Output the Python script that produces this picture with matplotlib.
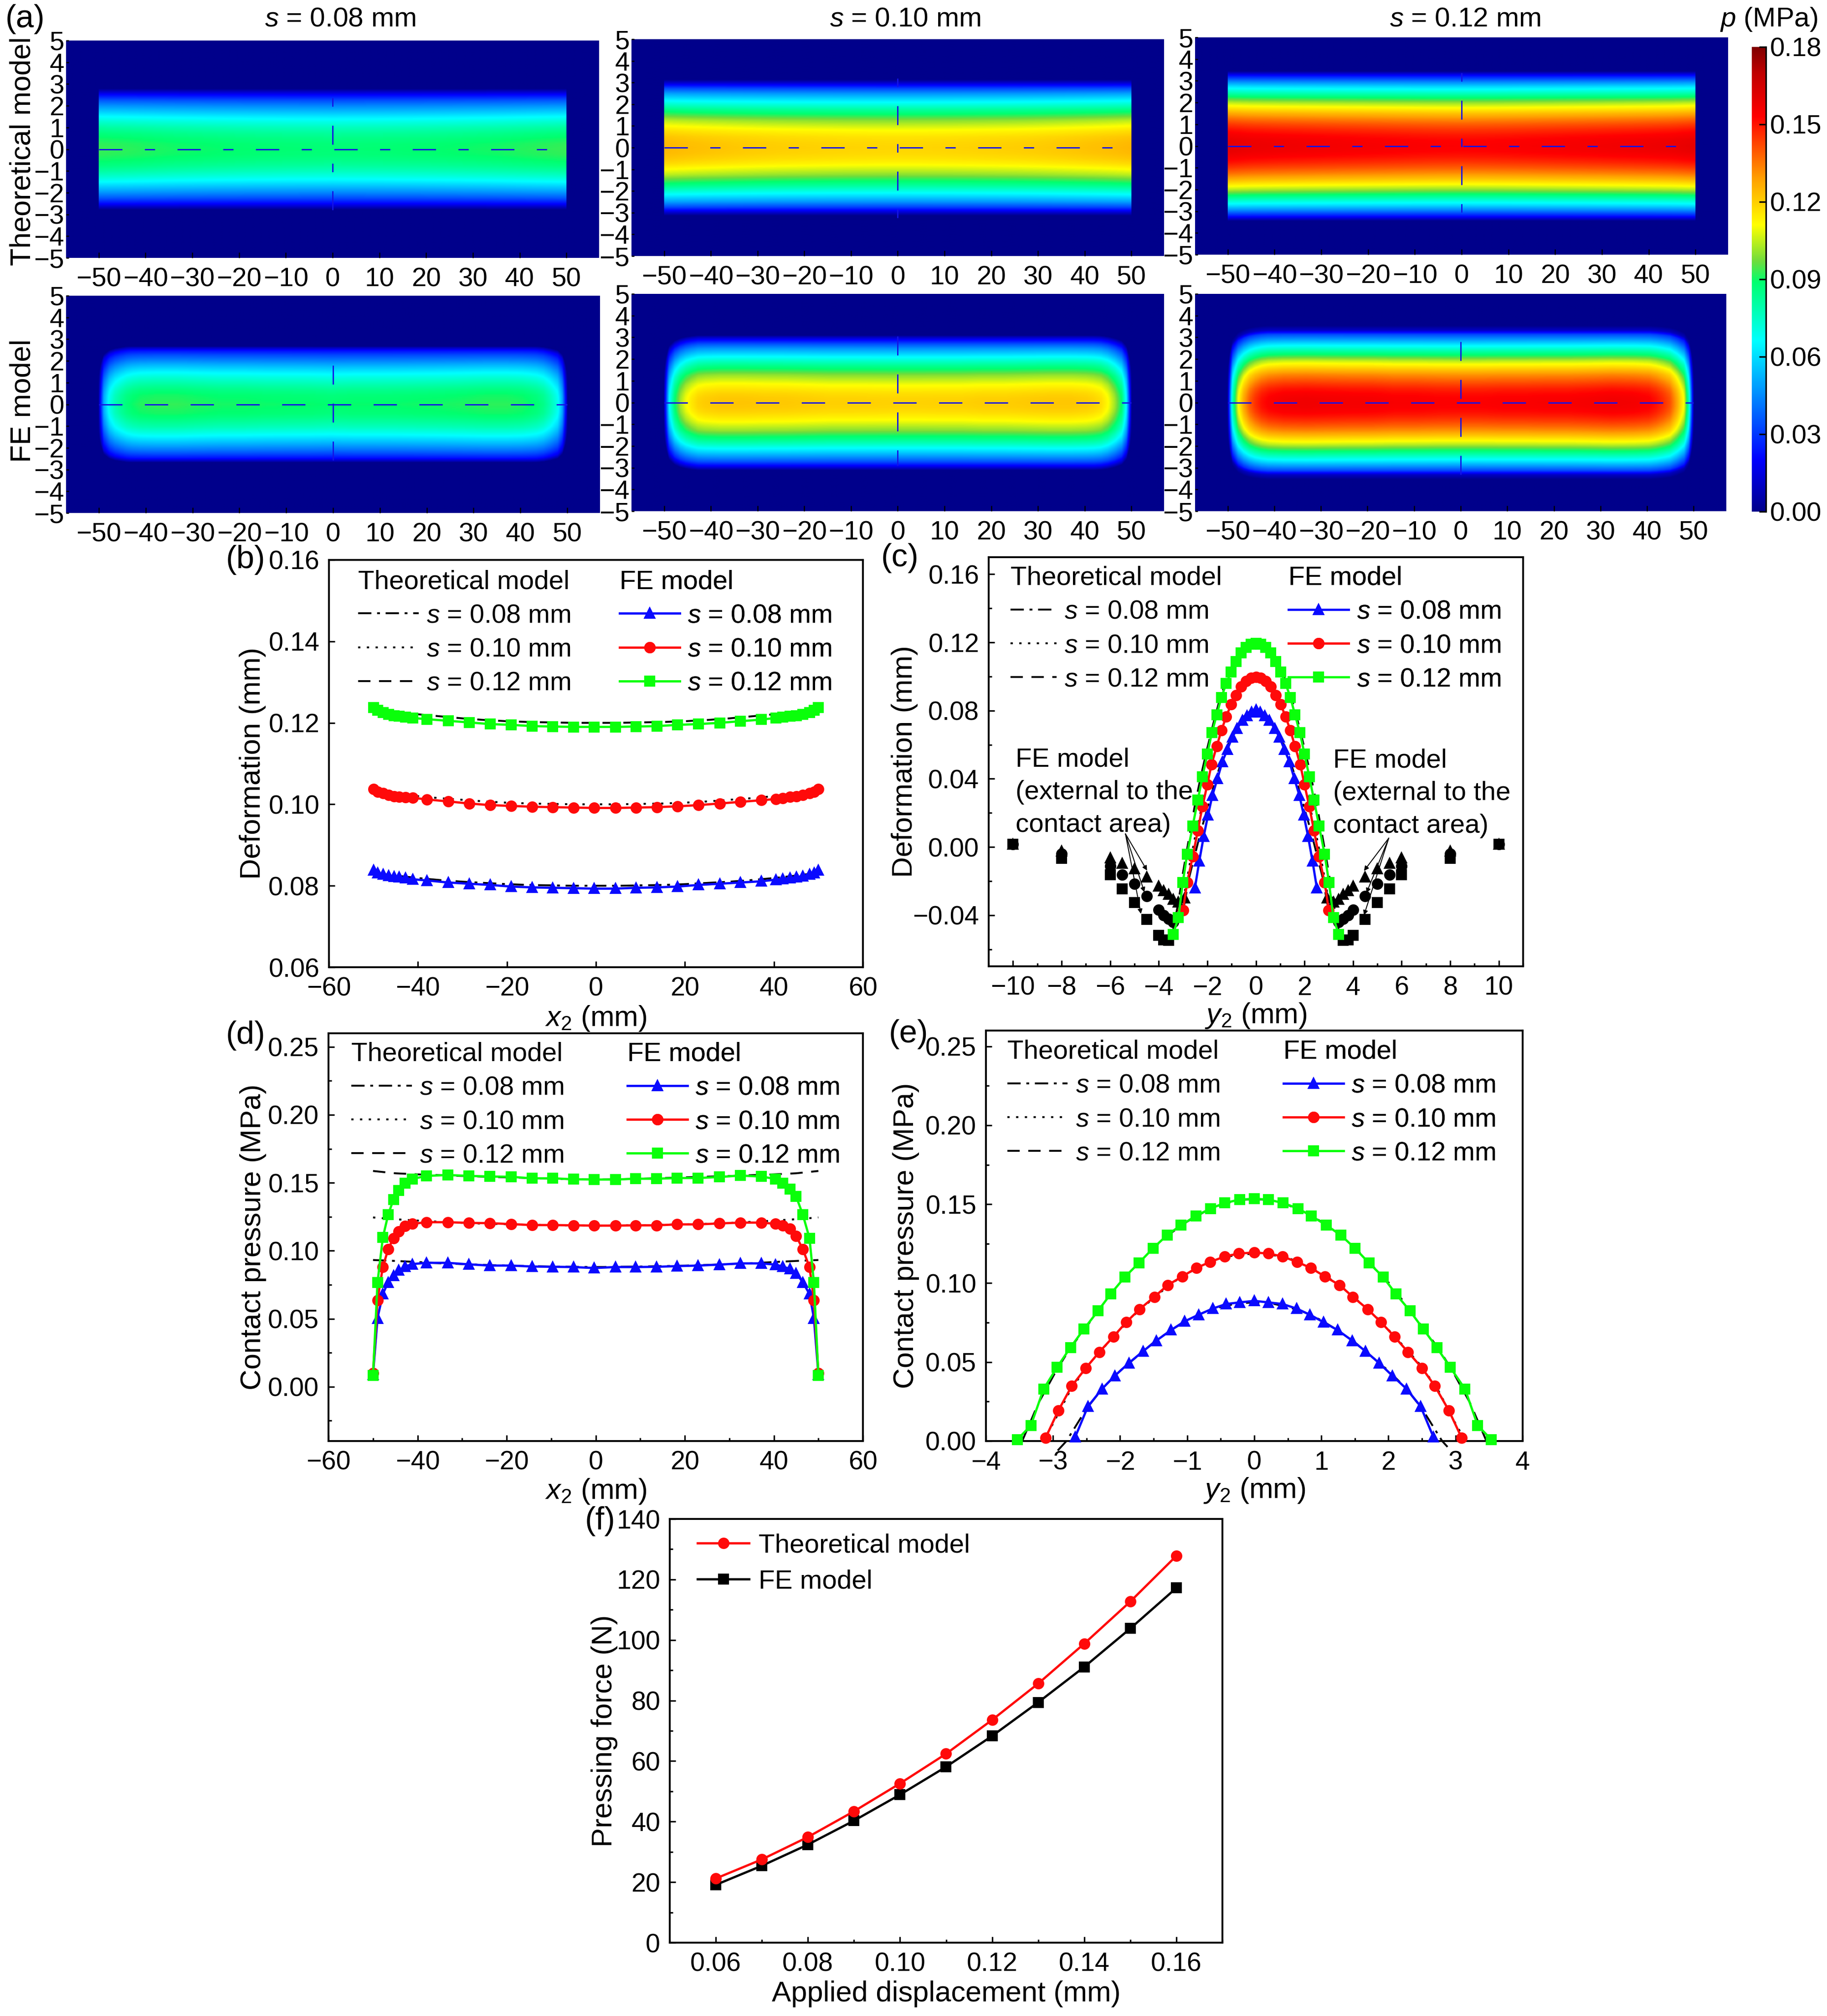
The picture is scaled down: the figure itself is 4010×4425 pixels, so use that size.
import numpy as np
import matplotlib
matplotlib.use('Agg')
import matplotlib.pyplot as plt
from matplotlib.cm import ScalarMappable
from matplotlib.colors import LinearSegmentedColormap, Normalize
from matplotlib.ticker import FuncFormatter, MultipleLocator

plt.rcParams['font.family'] = ['Liberation Sans', 'DejaVu Sans']
plt.rcParams['mathtext.fontset'] = 'custom'
plt.rcParams['mathtext.rm'] = 'Liberation Sans'
plt.rcParams['mathtext.it'] = 'Liberation Sans:italic'
plt.rcParams['lines.scale_dashes'] = False

W, H = 4011, 4425
FS = 14.5
FS_TICK = 13.8
FS_HEAT = 14
FS_LAB = 15.2
FS_LEG = 13.8

# --- values ---
sizes = ['0.08', '0.10', '0.12']

# colour bar stops (pressure in MPa, colour)
cbar_vals = [0, .02, .066, .089, .097, .111, .129, .153, .17, .18]
cbar_cols = ['#00008b', '#0000ff', '#00ffff', '#00ff6e', '#6edc3c', '#ffff00', '#ffa000', '#ff0000', '#c00000', '#800000']

# theory along x2 (b, d)
th_x = [-50, -45, -40, -35, -30, -25, -20, -15, -10, -5, 0, 5, 10, 15, 20, 25, 30, 35, 40, 45, 50]
th_def_x_08 = [.0832, .0825, .0819, .0814, .0810, .0807, .0804, .0802, .0801, .0800, .0800,
               .0800, .0801, .0802, .0804, .0807, .0810, .0814, .0819, .0825, .0832]
th_def_x_10 = [.1033, .1026, .1020, .1015, .1011, .1007, .1004, .1002, .1001, .1000, .1000,
               .1000, .1001, .1002, .1004, .1007, .1011, .1015, .1020, .1026, .1033]
th_def_x_12 = [.1235, .1227, .1221, .1216, .1211, .1207, .1204, .1202, .1201, .1200, .1200,
               .1200, .1201, .1202, .1204, .1207, .1211, .1216, .1221, .1227, .1235]
th_p_x_08 = [.0932, .0925, .0917, .0908, .0902, .0896, .0891, .0887, .0884, .0882, .0880,
             .0882, .0884, .0887, .0891, .0896, .0902, .0908, .0917, .0925, .0932]
th_p_x_10 = [.1245, .1232, .1222, .1213, .1205, .1199, .1195, .1191, .1188, .1186, .1185,
             .1186, .1188, .1191, .1195, .1199, .1205, .1213, .1222, .1232, .1245]
th_p_x_12 = [.1587, .1570, .1562, .1556, .1550, .1545, .1540, .1535, .1530, .1526, .1524,
             .1526, .1530, .1535, .1540, .1545, .1550, .1556, .1562, .1570, .1587]

# FE along x2 (b, d)
fe_x = [-50, -49, -47.8, -46.6, -45.4, -44.2, -42.8, -41.2, -38, -33.2, -28.5, -23.8, -19, -14.3, -9.7, -5, -0.4,
        4.4, 9, 13.7, 18.3, 23, 27.8, 32.5, 37.2, 40.4, 42, 43.6, 45, 46.5, 48, 49, 50]
fe_def_x_08 = [.0838, .0832, .0828, .0825, .0823, .0821, .0819, .0816, .0813, .0808, .0805, .0802, .0798, .0796,
               .0795, .0794, .0793, .0793, .0795, .0796, .0798, .0802, .0805, .0808, .0811, .0815, .0817, .0819,
               .0821, .0824, .0828, .0832, .0838]
fe_def_x_10 = [.1037, .1031, .1027, .1023, .1020, .1018, .1017, .1016, .1012, .1007, .1002, .0998, .0996, .0994,
               .0993, .0992, .0991, .0991, .0992, .0993, .0995, .0998, .1002, .1006, .1010, .1013, .1015, .1018,
               .1020, .1023, .1027, .1031, .1037]
fe_def_x_12 = [.1238, .1231, .1225, .1221, .1218, .1216, .1214, .1212, .1209, .1205, .1201, .1197, .1195, .1192,
               .1191, .1190, .1190, .1190, .1191, .1192, .1195, .1197, .1200, .1204, .1208, .1212, .1214, .1216,
               .1218, .1221, .1225, .1231, .1238]
fe_p_x_08 = [.0090, .0503, .0682, .0768, .0817, .0857, .0884, .0902, .0911, .0911, .0900, .0891, .0891, .0884,
             .0882, .0880, .0873, .0880, .0880, .0882, .0887, .0891, .0898, .0907, .0907, .0898, .0884, .0866,
             .0835, .0768, .0682, .0503, .0090]
fe_p_x_10 = [.0099, .0637, .0880, .1012, .1093, .1142, .1183, .1198, .1210, .1210, .1205, .1203, .1196, .1189,
             .1189, .1187, .1185, .1185, .1187, .1187, .1194, .1194, .1201, .1207, .1207, .1198, .1185, .1163,
             .1109, .1012, .0880, .0637, .0099]
fe_p_x_12 = [.0083, .0765, .1097, .1266, .1378, .1445, .1497, .1528, .1551, .1557, .1551, .1546, .1544, .1533,
             .1533, .1526, .1524, .1524, .1530, .1530, .1535, .1535, .1543, .1553, .1546, .1528, .1497, .1452,
             .1400, .1266, .1093, .0765, .0083]

# deformation along y2 (c)
th_def_y_x_08 = [-2.95, -2.75, -2.5, -2.25, -2, -1.75, -1.5, -1.25, -1, -.75, -.5, -.25, 0,
                 .25, .5, .75, 1, 1.25, 1.5, 1.75, 2, 2.25, 2.5, 2.75, 2.95]
th_def_y_08 = [-.034, -.018, -.004, .010, .0225, .035, .0465, .056, .0645, .0715, .0765, .0795, .0805,
               .0795, .0765, .0715, .0645, .056, .0465, .035, .0225, .010, -.004, -.018, -.034]
th_def_y_x_10 = [-3.1, -3, -2.75, -2.5, -2.25, -2, -1.75, -1.5, -1.25, -1, -.75, -.5, -.25, 0,
                 .25, .5, .75, 1, 1.25, 1.5, 1.75, 2, 2.25, 2.5, 2.75, 3, 3.1]
th_def_y_10 = [-.041, -.032, -.012, .006, .022, .0375, .0525, .0645, .0755, .0845, .0915, .0965, .0995, .1003,
               .0995, .0965, .0915, .0845, .0755, .0645, .0525, .0375, .022, .006, -.012, -.032, -.041]
th_def_y_x_12 = [-3.45, -3.2, -3, -2.75, -2.5, -2.25, -2, -1.75, -1.5, -1.25, -1, -.75, -.5, -.25, 0,
                 .25, .5, .75, 1, 1.25, 1.5, 1.75, 2, 2.25, 2.5, 2.75, 3, 3.2, 3.45]
th_def_y_12 = [-.052, -.033, -.015, .0055, .0255, .0425, .058, .0725, .086, .0965, .1055, .1125, .1165, .1195, .1203,
               .1195, .1165, .1125, .1055, .0965, .086, .0725, .058, .0425, .0255, .0055, -.015, -.033, -.052]

fe_def_y_x_08 = [-2.51, -2.33, -2.15, -1.97, -1.79, -1.58, -1.38, -1.17, -.97, -.77, -.56, -.36, -.18, 0,
                 .18, .36, .56, .77, .97, 1.17, 1.38, 1.58, 1.79, 1.97, 2.15, 2.33, 2.51]
fe_def_y_08 = [-.024, -.0083, .0061, .0187, .0303, .0402, .0501, .0573, .0645, .0695, .0743, .0770, .0790, .0806,
               .0790, .0770, .0743, .0695, .0645, .0573, .0501, .0402, .0303, .0187, .0061, -.0083, -.024]
fe_def_y_x_10 = [-3, -2.83, -2.6, -2.39, -2.2, -2, -1.83, -1.61, -1.42, -1.22, -1.02, -.82, -.61, -.41, -.2, 0,
                 .2, .41, .61, .82, 1.02, 1.22, 1.42, 1.61, 1.83, 2, 2.2, 2.39, 2.6, 2.83, 3]
fe_def_y_10 = [-.037, -.0208, -.0056, .0097, .0237, .0366, .0483, .0591, .0684, .0765, .0837, .0890, .0941, .0973,
               .0991, .0998, .0991, .0973, .0941, .0890, .0837, .0765, .0684, .0591, .0483, .0366, .0237, .0097,
               -.0056, -.0208, -.037]
fe_def_y_x_12 = [-3.41, -3.19, -3.01, -2.83, -2.6, -2.39, -2.2, -2, -1.81, -1.61, -1.42, -1.22, -1.02, -.82, -.61,
                 -.41, -.2, 0, .2, .41, .61, .82, 1.02, 1.22, 1.42, 1.61, 1.81, 2, 2.2, 2.39, 2.6, 2.83, 3.01, 3.19,
                 3.41]
fe_def_y_12 = [-.0513, -.0415, -.0208, -.0043, .0124, .0276, .0411, .0546, .0671, .0776, .0878, .0959, .1027, .1088,
               .1138, .1171, .1189, .1196, .1189, .1171, .1138, .1088, .1027, .0959, .0878, .0776, .0671, .0546,
               .0411, .0276, .0124, -.0043, -.0208, -.0415, -.0513]

# FE points outside the contact area (c)
ext_x_tri = [-10, -8, -6, -5.5, -5, -4.5, -4, -3.8, -3.6, -3.4, -3.2, -2.94,
             2.94, 3.2, 3.4, 3.6, 3.8, 4, 4.5, 5, 5.5, 6, 8, 10]
ext_tri = [.0015, -.0025, -.0064, -.0096, -.0129, -.0175, -.0229, -.0256, -.0279, -.0306, -.0324, -.030,
           -.030, -.0324, -.0306, -.0279, -.0256, -.0229, -.0175, -.0129, -.0096, -.0064, -.0025, .0015]
ext_x_cir = [-10, -8, -6, -5.5, -5, -4.5, -4, -3.8, -3.6, -3.4, 3.4, 3.6, 3.8, 4, 4.5, 5, 5.5, 6, 8, 10]
ext_cir = [.0015, -.0039, -.0111, -.0163, -.0215, -.0288, -.0369, -.040, -.0423, -.0441,
           -.0441, -.0423, -.040, -.0369, -.0288, -.0215, -.0163, -.0111, -.0039, .0015]
ext_x_sq = [-10, -8, -6, -5.5, -5, -4.5, -4, -3.8, -3.6, 3.6, 3.8, 4, 4.5, 5, 5.5, 6, 8, 10]
ext_sq = [.0015, -.0066, -.0164, -.0245, -.0326, -.0426, -.0519, -.0546, -.0548,
          -.0548, -.0546, -.0519, -.0426, -.0326, -.0245, -.0164, -.0066, .0015]

# pressure along y2 (e)
th_p_y_x_08 = [-2.93, -2.8, -2.5, -2.25, -2, -1.75, -1.5, -1.25, -1, -.75, -.5, -.25, 0,
               .25, .5, .75, 1, 1.25, 1.5, 1.75, 2, 2.25, 2.5, 2.8, 2.88]
th_p_y_08 = [-.006, 0, .0205, .034, .0445, .0535, .0625, .07, .0765, .0815, .085, .0872, .0878,
             .0872, .085, .0815, .0765, .07, .0625, .0535, .0445, .034, .0205, 0, -.0037]
th_p_y_x_10 = [-3.15, -3, -2.75, -2.5, -2.25, -2, -1.75, -1.5, -1.25, -1, -.75, -.5, -.25, 0,
               .25, .5, .75, 1, 1.25, 1.5, 1.75, 2, 2.25, 2.5, 2.75, 3, 3.15]
th_p_y_10 = [0, .011, .0315, .047, .059, .0705, .0815, .0905, .0995, .106, .112, .116, .118, .1187,
             .118, .116, .112, .106, .0995, .0905, .0815, .0705, .059, .047, .0315, .011, 0]
th_p_y_x_12 = [-3.46, -3.22, -2.94, -2.74, -2.5, -2.25, -2, -1.75, -1.5, -1.25, -1, -.75, -.5, -.25, 0,
               .25, .5, .75, 1, 1.25, 1.5, 1.75, 2, 2.25, 2.5, 2.74, 2.94, 3.22, 3.46]
th_p_y_12 = [0, .0238, .0455, .059, .0725, .087, .1005, .1115, .1225, .1315, .139, .145, .1495, .1525, .1533,
             .1525, .1495, .145, .139, .1315, .1225, .1115, .1005, .087, .0725, .059, .0455, .0238, 0]

fe_p_y_x_08 = [-2.67, -2.48, -2.27, -2.08, -1.87, -1.66, -1.46, -1.24, -1.04, -.83, -.62, -.42, -.22, 0,
               .21, .42, .63, .83, 1.03, 1.24, 1.46, 1.66, 1.86, 2.06, 2.27, 2.48, 2.67]
fe_p_y_08 = [.0025, .0219, .033, .0413, .0494, .0568, .0636, .0703, .0758, .08, .0839, .0868, .0878, .0888,
             .0878, .0868, .0839, .08, .0753, .0703, .0636, .0568, .0494, .0413, .033, .0219, .0025]
fe_p_y_x_10 = [-3.11, -2.92, -2.72, -2.51, -2.31, -2.1, -1.91, -1.71, -1.49, -1.29, -1.07, -.86, -.66, -.44, -.23, 0,
               .21, .42, .64, .84, 1.05, 1.27, 1.47, 1.69, 1.89, 2.09, 2.29, 2.5, 2.69, 2.9, 3.09]
fe_p_y_10 = [.0021, .0194, .0349, .0463, .0564, .0661, .0752, .0835, .0913, .0988, .1043, .1097, .1134, .1169, .1188,
             .1194, .1188, .1169, .1134, .1097, .1043, .0988, .0913, .0835, .0752, .0661, .0564, .0463, .0349, .0194,
             .0021]
fe_p_y_x_12 = [-3.53, -3.33, -3.14, -2.94, -2.74, -2.54, -2.33, -2.14, -1.93, -1.72, -1.51, -1.3, -1.09, -.87, -.65,
               -.44, -.22, 0, .21, .43, .65, .85, 1.07, 1.29, 1.5, 1.71, 1.92, 2.11, 2.32, 2.52, 2.72, 2.92, 3.14,
               3.33, 3.53]
fe_p_y_12 = [.001, .0099, .033, .0467, .0593, .0709, .0824, .0932, .1039, .1128, .1221, .1304, .1368, .1426, .1473,
             .1508, .1529, .1535, .1529, .1508, .1473, .1426, .1368, .1304, .1221, .1128, .1039, .0932, .0824,
             .0709, .0593, .0467, .033, .0099, .001]

# force vs displacement (f)
disp = [.06, .07, .08, .09, .10, .11, .12, .13, .14, .15, .16]
force_th = [21.2, 27.5, 34.9, 43.4, 52.6, 62.4, 73.6, 85.6, 98.8, 112.7, 127.8]
force_fe = [19.1, 25.4, 32.4, 40.3, 48.9, 58.1, 68.3, 79.4, 91.1, 103.8, 117.2]

# ends of the blue probe lines in (a): y top, y bottom
probe_th = [(2.35, -2.85), (3.2, -3.25), (3.37, -3.45)]
probe_fe = [(1.8, -2.6), (3.05, -2.9), (2.8, -3.4)]

# --- drawing ---
fig = plt.figure(figsize=(W / 300, H / 300), dpi=300)


def add_ax(l, t, r, b):
    return fig.add_axes([l / W, 1 - b / H, (r - l) / W, (b - t) / H])


def fig_text(x, y, s, **kw):
    kw.setdefault('ha', 'center')
    kw.setdefault('va', 'center')
    kw.setdefault('fontsize', FS)
    fig.text(x / W, 1 - y / H, s, **kw)


cmap = LinearSegmentedColormap.from_list('pressure', [(v / .18, c) for v, c in zip(cbar_vals, cbar_cols)], N=512)

heat_x = np.linspace(-57, 57, 913)
heat_y = np.linspace(-5, 5, 401)
DASH_TH = (0, (12.3, 11.8, 5.4, 11.8))
DASH_FE = (0, (12.3, 11.8))
DASH_V = (0, (4.5, 10, 10, 10))
DASH_VFE = (0, (10, 10))


def heat_panel(box, px_x, px_vals, py_x, py_vals, probe, th):
    ax = add_ax(*box)
    px = np.interp(heat_x, px_x, px_vals, left=0, right=0)
    mid = np.interp(0, px_x, px_vals)
    ratio = px / mid
    if th:
        field = np.outer(np.interp(heat_y, py_x, py_vals, left=0, right=0), ratio)
    else:
        # the FE contact patch narrows towards the ends, which rounds the corners
        narrow = np.clip(ratio, 1e-3, 1) ** .28
        field = np.array([np.interp(heat_y / n, py_x, py_vals, left=0, right=0) for n in narrow]).T * ratio
    field = np.clip(field, 0, None)
    ax.imshow(field, extent=[-57, 57, -5, 5], origin='lower', aspect='auto', cmap=cmap,
              vmin=0, vmax=0.18, interpolation='bilinear')
    ax.plot([-50, 50], [0, 0], color='#1414e6', lw=.7, ls=DASH_TH if th else DASH_FE)
    ax.plot([0, 0], probe, color='#1414e6', lw=.7, ls=DASH_V if th else DASH_VFE)
    ax.set_xlim(-57, 57)
    ax.set_ylim(-5, 5)
    ax.set_xticks(np.arange(-50, 51, 10))
    ax.set_yticks(np.arange(-5, 6, 1))
    ax.tick_params(axis='x', direction='in', length=3, width=.6, pad=5, labelsize=FS_HEAT)
    ax.tick_params(axis='y', direction='in', length=1.5, width=.6, pad=1, labelsize=FS_HEAT)
    for sp in ax.spines.values():
        sp.set_visible(False)
    return ax


th_px = [th_p_x_08, th_p_x_10, th_p_x_12]
fe_px = [fe_p_x_08, fe_p_x_10, fe_p_x_12]
th_py = [(th_p_y_x_08, th_p_y_08), (th_p_y_x_10, th_p_y_10), (th_p_y_x_12, th_p_y_12)]
fe_py = [(fe_p_y_x_08, fe_p_y_08), (fe_p_y_x_10, fe_p_y_10), (fe_p_y_x_12, fe_p_y_12)]
boxes_top = [(145, 89, 1315, 566), (1386, 86, 2555, 562), (2623, 82, 3793, 559)]
boxes_bot = [(145, 649, 1317, 1126), (1386, 645, 2555, 1122), (2623, 645, 3789, 1122)]
for i in range(3):
    heat_panel(boxes_top[i], th_x, th_px[i], th_py[i][0], th_py[i][1], probe_th[i], True)
    heat_panel(boxes_bot[i], fe_x, fe_px[i], fe_py[i][0], fe_py[i][1], probe_fe[i], False)

for x, s in zip([747, 1987, 3216], sizes):
    fig_text(x, 42, '$s$ = %s mm' % s)
fig_text(3882, 42, '$p$ (MPa)')
fig_text(50, 332, 'Theoretical model', rotation=90, fontsize=FS + .7)
fig_text(50, 880, 'FE model', rotation=90, fontsize=FS + .7)

cax = add_ax(3845, 103, 3876, 1123)
cb = fig.colorbar(ScalarMappable(Normalize(0, 0.18), cmap=cmap), cax=cax)
cb.set_ticks([0, .03, .06, .09, .12, .15, .18])
cb.set_ticklabels(['0.00', '0.03', '0.06', '0.09', '0.12', '0.15', '0.18'])
cb.ax.tick_params(direction='in', length=3.6, width=.8, pad=2, labelsize=FS_HEAT)
cb.outline.set_visible(False)
cax.spines['right'].set_visible(True)
cax.spines['right'].set_linewidth(.8)

for txt, x, y in [('(a)', 55, 42), ('(b)', 539, 1229), ('(c)', 1975, 1225), ('(d)', 539, 2273),
                  ('(e)', 1994, 2270), ('(f)', 1317, 3339)]:
    fig_text(x, y, txt, fontsize=17)

C_TH = 'black'
LS_TH = [(0, (7, 3, 1.5, 3)), (0, (1.2, 3.4)), (0, (6.5, 4.5))]
COLS = ['#0a0aff', '#ff0a0a', '#0aff0a']
MARKS = ['^', 'o', 's']
MS = 5


def style_ax(ax, xlim, ylim, xmaj, ymaj, xmin=None, ymin=None, xlabel='', ylabel='', xfmt='%d', yfmt='%.2f',
             xl_pos=-.09, yl_pos=-.122):
    ax.set_xlim(*xlim)
    ax.set_ylim(*ylim)
    ax.xaxis.set_major_locator(MultipleLocator(xmaj))
    ax.yaxis.set_major_locator(MultipleLocator(ymaj))
    if xmin:
        ax.xaxis.set_minor_locator(MultipleLocator(xmin))
    if ymin:
        ax.yaxis.set_minor_locator(MultipleLocator(ymin))
    ax.xaxis.set_major_formatter(FuncFormatter(lambda v, p: (xfmt % v).replace('-', '\u2212')))
    ax.yaxis.set_major_formatter(FuncFormatter(lambda v, p: (yfmt % v).replace('-', '\u2212')))
    ax.tick_params(which='major', direction='in', length=3.2, width=.8, labelsize=FS_TICK, pad=5)
    ax.tick_params(which='minor', direction='in', length=1.6, width=.8)
    for sp in ax.spines.values():
        sp.set_linewidth(1)
    ax.set_xlabel(xlabel, fontsize=FS_LAB)
    ax.set_ylabel(ylabel, fontsize=FS_LAB)
    ax.xaxis.set_label_coords(.5, xl_pos)
    ax.yaxis.set_label_coords(yl_pos, .5)


def two_legends(ax, h_th, h_fe, l_th, l_fe, top, hlen_th=2.3, hlen_fe=2.3, gap=.35):
    labels = ['$s$ = %s mm' % s for s in sizes]
    for handles, title, left, hlen in [(h_th, 'Theoretical model', l_th, hlen_th), (h_fe, 'FE model', l_fe, hlen_fe)]:
        leg = ax.legend(handles, labels, title=title, loc='upper left', bbox_to_anchor=(left, top), frameon=False,
                        borderaxespad=0, borderpad=0, handlelength=hlen, handletextpad=.3, labelspacing=gap,
                        fontsize=FS_LEG, title_fontsize=FS_LEG + .2, numpoints=1)
        leg._legend_box.align = 'left'
        ax.add_artist(leg)


def series_panel(ax, th_series, fe_series, clip=True):
    h_th, h_fe = [], []
    for i, (x, y) in enumerate(th_series):
        h_th.append(ax.plot(x, y, color=C_TH, lw=1, ls=LS_TH[i], zorder=2, clip_on=clip)[0])
    for i, (x, y) in enumerate(fe_series):
        h_fe.append(ax.plot(x, y, color=COLS[i], lw=1.2, marker=MARKS[i], ms=MS, zorder=3 + i, clip_on=clip)[0])
    return h_th, h_fe


# (b)
ax = add_ax(722, 1229, 1894, 2123)
h_th, h_fe = series_panel(ax, [(th_x, th_def_x_08), (th_x, th_def_x_10), (th_x, th_def_x_12)],
                          [(fe_x, fe_def_x_08), (fe_x, fe_def_x_10), (fe_x, fe_def_x_12)])
style_ax(ax, (-60, 60), (.06, .16), 20, .02, xlabel='$x_2$ (mm)', ylabel='Deformation (mm)', yl_pos=-.118, xl_pos=-.091)
two_legends(ax, h_th, h_fe, .055, .544, .976)

# (c)
ax = add_ax(2170, 1223, 3343, 2121)
ax.plot(ext_x_sq, ext_sq, ls='none', color='k', marker='s', ms=MS, zorder=1.5)
ax.plot(ext_x_cir, ext_cir, ls='none', color='k', marker='o', ms=MS, zorder=1.5)
ax.plot(ext_x_tri, ext_tri, ls='none', color='k', marker='^', ms=MS, zorder=1.5)
h_th, h_fe = series_panel(ax, [(th_def_y_x_08, th_def_y_08), (th_def_y_x_10, th_def_y_10),
                               (th_def_y_x_12, th_def_y_12)],
                          [(fe_def_y_x_08, fe_def_y_08), (fe_def_y_x_10, fe_def_y_10),
                           (fe_def_y_x_12, fe_def_y_12)])
style_ax(ax, (-11, 11), (-.07, .17), 2, .04, 1, .02, xlabel='$y_2$ (mm)', ylabel='Deformation (mm)', yl_pos=-.132,
         xl_pos=-.086)
two_legends(ax, h_th, h_fe, .041, .561, .979, hlen_th=1.75)
ax.text(-9.9, .0321, 'FE model\n(external to the\ncontact area)', fontsize=FS_LEG + .2, ha='left', va='center',
        linespacing=1.42)
ax.text(3.17, .0315, 'FE model\n(external to the\ncontact area)', fontsize=FS_LEG + .2, ha='left', va='center',
        linespacing=1.42)
arrow = dict(arrowstyle='-|>', lw=.5, color='k', mutation_scale=5, shrinkA=0, shrinkB=0)
for tx, ty in [(-4.48, -.0138), (-4.59, -.0265), (-4.73, -.0392)]:
    ax.annotate('', xy=(tx, ty), xytext=(-5.37, .0077), arrowprops=arrow, zorder=2)
for tx, ty in [(4.45, -.014), (4.55, -.027), (4.45, -.040)]:
    ax.annotate('', xy=(tx, ty), xytext=(5.47, .0052), arrowprops=arrow, zorder=2)

# (d)
ax = add_ax(721, 2268, 1894, 3163)
h_th, h_fe = series_panel(ax, [(th_x, th_p_x_08), (th_x, th_p_x_10), (th_x, th_p_x_12)],
                          [(fe_x, fe_p_x_08), (fe_x, fe_p_x_10), (fe_x, fe_p_x_12)])
style_ax(ax, (-60, 60), (-.04, .26), 20, .05, 10, .025, xlabel='$x_2$ (mm)', ylabel='Contact pressure (MPa)',
         yl_pos=-.116, xl_pos=-.088)
two_legends(ax, h_th, h_fe, .043, .559, .979)

# (e)
ax = add_ax(2164, 2262, 3342, 3163)
h_th, h_fe = series_panel(ax, [(th_p_y_x_08, th_p_y_08), (th_p_y_x_10, th_p_y_10), (th_p_y_x_12, th_p_y_12)],
                          [(fe_p_y_x_08, fe_p_y_08), (fe_p_y_x_10, fe_p_y_10), (fe_p_y_x_12, fe_p_y_12)], clip=False)
style_ax(ax, (-4, 4), (0, .26), 1, .05, .5, .025, xlabel='$y_2$ (mm)', ylabel='Contact pressure (MPa)', yl_pos=-.124,
         xl_pos=-.086)
two_legends(ax, h_th, h_fe, .04, .554, .978)

# (f)
ax = add_ax(1470, 3334, 2683, 4264)
l1, = ax.plot(disp, force_th, color='#ff0a0a', lw=1.2, marker='o', ms=MS, label='Theoretical model', zorder=3)
l2, = ax.plot(disp, force_fe, color='k', lw=1.2, marker='s', ms=MS, label='FE model', zorder=2)
style_ax(ax, (.05, .17), (0, 140), .02, 20, .01, 10, xlabel='Applied displacement (mm)', ylabel='Pressing force (N)',
         yl_pos=-.094, xl_pos=-.089, xfmt='%.2f', yfmt='%d')
ax.legend(handles=[l1, l2], loc='upper left', bbox_to_anchor=(.05, .966), frameon=False, borderaxespad=0, borderpad=0,
          handlelength=1.95, handletextpad=.35, labelspacing=.42, fontsize=FS_LEG + .2, numpoints=1)

fig.savefig('out.png', dpi=300)
